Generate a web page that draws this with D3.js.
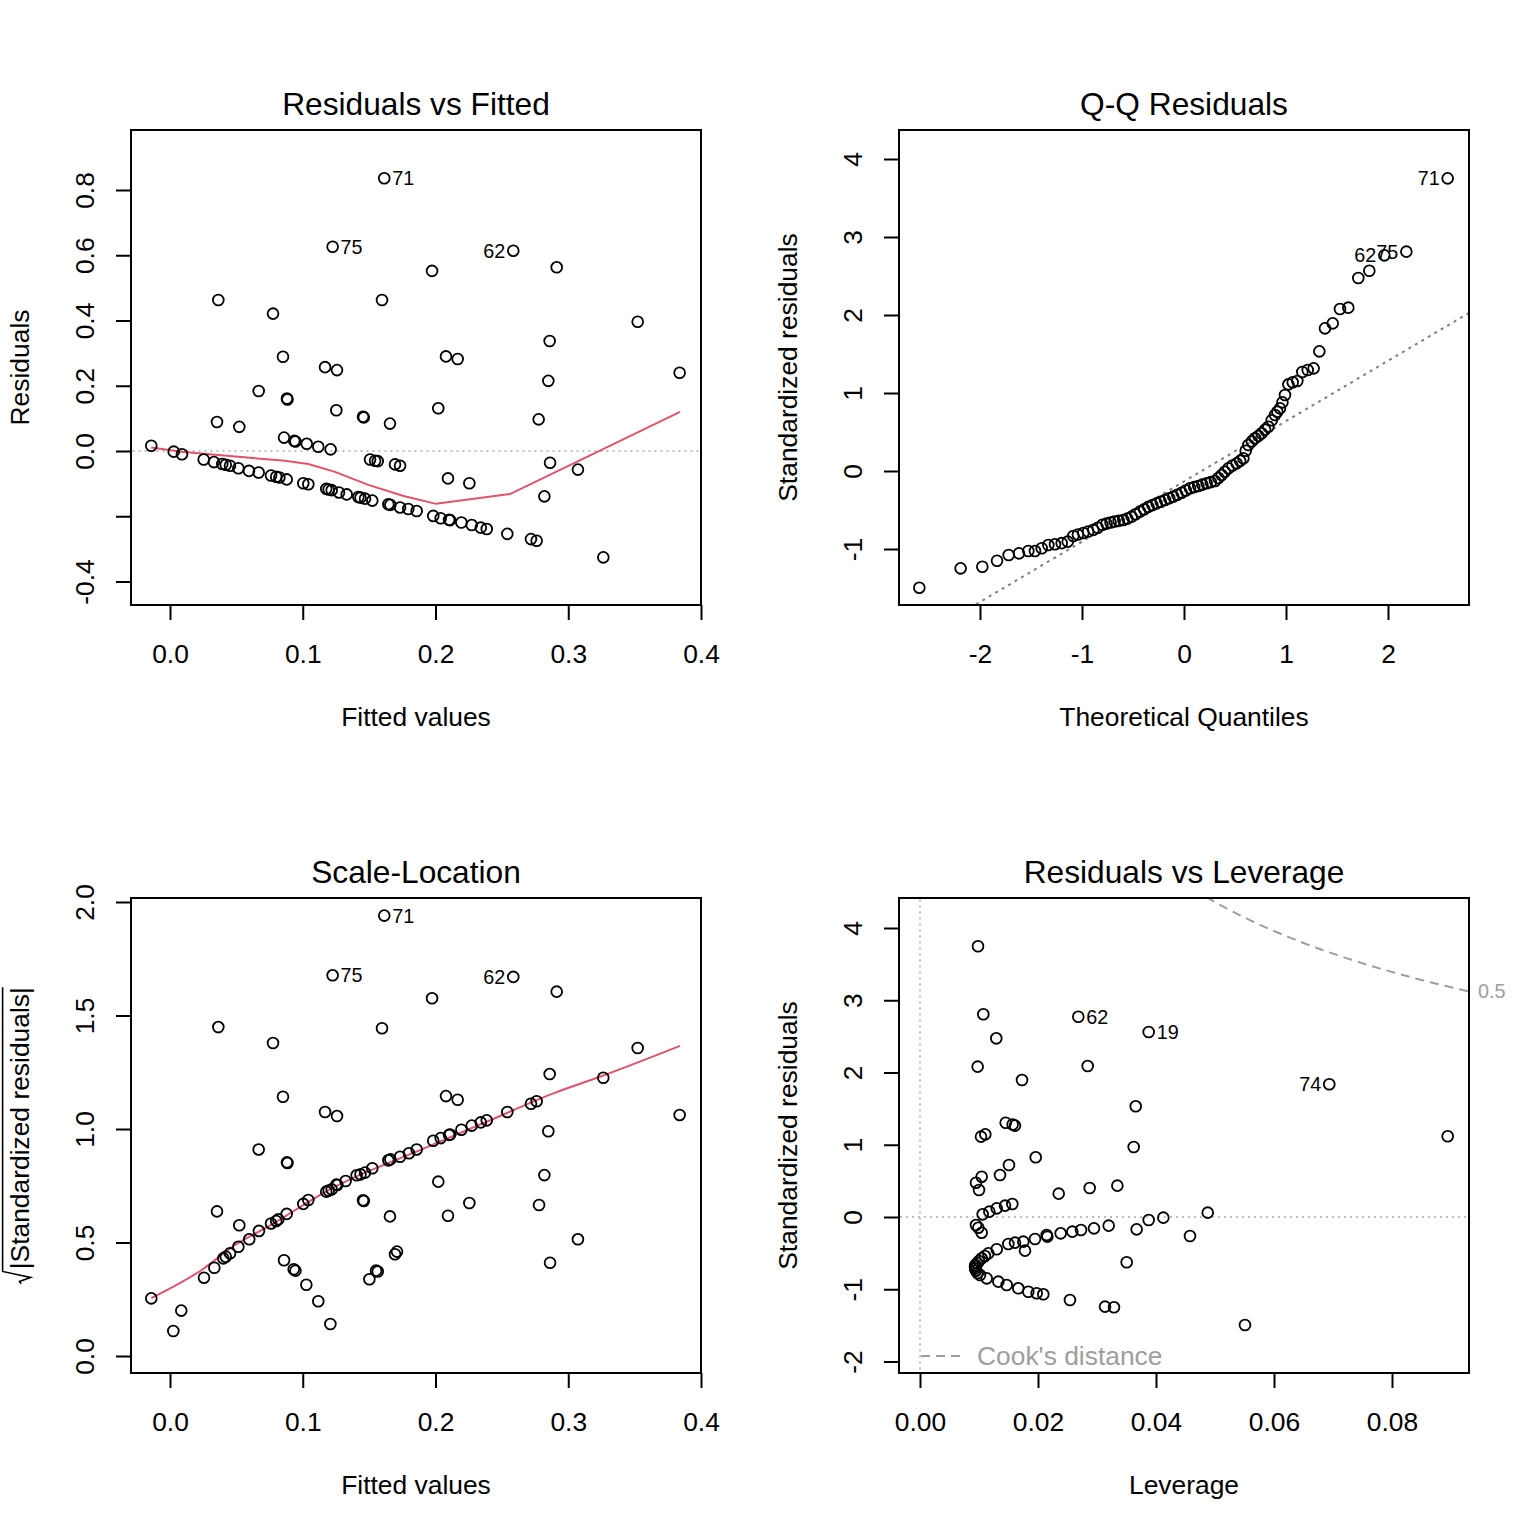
<!DOCTYPE html>
<html>
<head>
<script src="https://cdn.jsdelivr.net/npm/d3@7"></script>
<style>
  body{margin:0;background:white;}
</style>
</head>
<body>
<div id="chart"></div>
<script>

// ---- Residuals vs Fitted : [fitted, residual]
var residFitted = [
  [0.1614,0.836],[0.1225,0.626],[0.2586,0.614],[0.0364,0.463],[0.1597,0.463],[0.0776,0.421],
  [0.1974,0.552],[0.2913,0.563],[0.3523,0.396],[0.0851,0.289],[0.1168,0.257],[0.1258,0.248],
  [0.2860,0.337],[0.2079,0.290],[0.2167,0.282],[0.3839,0.240],[0.2850,0.215],[0.0668,0.184],
  [0.0881,0.161],[0.0885,0.158],[0.1253,0.125],[0.1454,0.105],[0.1460,0.103],[0.0354,0.089],
  [0.0522,0.074],[0.1657,0.084],[0.2021,0.131],[0.2777,0.097],[0.0859,0.041],[0.0936,0.031],
  [0.0945,0.029],[0.1030,0.022],[0.1117,0.013],[0.1210,0.005],[-0.0141,0.016],
  [0.1507,-0.026],[0.1545,-0.030],[0.1565,-0.031],[0.1695,-0.041],[0.1733,-0.045],
  [0.2863,-0.036],[0.3073,-0.057],[0.2094,-0.084],[0.2255,-0.099],[0.2820,-0.139],
  [0.0028,-0.002],[0.0090,-0.010],[0.0254,-0.026],[0.0331,-0.034],[0.0394,-0.040],[0.0420,-0.042],
  [0.0452,-0.045],[0.0515,-0.053],[0.0595,-0.061],[0.0668,-0.066],[0.0761,-0.075],[0.0800,-0.079],
  [0.0824,-0.081],[0.0879,-0.087],[0.1004,-0.099],[0.1042,-0.102],[0.1177,-0.116],[0.1195,-0.118],
  [0.1218,-0.120],[0.1273,-0.127],[0.1331,-0.133],[0.1419,-0.141],[0.1435,-0.143],[0.1469,-0.146],
  [0.1524,-0.152],[0.1645,-0.163],[0.1660,-0.165],[0.1733,-0.173],[0.1795,-0.178],[0.1858,-0.184],
  [0.1983,-0.199],[0.2039,-0.206],[0.2102,-0.211],[0.2110,-0.212],[0.2195,-0.219],[0.2273,-0.227],
  [0.2341,-0.235],[0.2386,-0.239],[0.2541,-0.254],[0.2719,-0.270],[0.2762,-0.275],[0.3264,-0.326]
]
var residSmooth = [
  [-0.0141,0.011],[0.0088,-0.002],[0.049,-0.017],[0.0866,-0.030],[0.1042,-0.040],[0.1243,-0.064],
  [0.1494,-0.104],[0.1760,-0.138],[0.2004,-0.162],[0.2561,-0.132],[0.3239,0.001],[0.3842,0.120]
]
var residIds = [[0.1614,0.836,"71"],[0.1225,0.626,"75"],[0.2586,0.614,"62"]]

// ---- Q-Q Residuals : [theoretical quantile, standardized residual]
var qqPoints = [
  [-2.595,-1.496],[-2.190,-1.248],[-1.977,-1.227],[-1.833,-1.150],[-1.719,-1.077],[-1.618,-1.056],
  [-1.526,-1.026],[-1.461,-1.026],[-1.395,-0.991],[-1.330,-0.949],[-1.265,-0.940],[-1.199,-0.925],
  [-1.140,-0.906],[-1.085,-0.833],[-1.040,-0.815],[-0.987,-0.795],[-0.940,-0.775],[-0.889,-0.755],
  [-0.845,-0.728],[-0.800,-0.690],[-0.760,-0.675],[-0.720,-0.660],[-0.680,-0.648],[-0.640,-0.640],
  [-0.595,-0.628],[-0.555,-0.610],[-0.513,-0.585],[-0.475,-0.555],[-0.431,-0.521],[-0.390,-0.490],
  [-0.350,-0.460],[-0.310,-0.437],[-0.268,-0.415],[-0.228,-0.395],[-0.186,-0.372],[-0.145,-0.350],
  [-0.105,-0.329],[-0.065,-0.305],[-0.023,-0.278],[0.018,-0.250],[0.059,-0.222],[0.100,-0.207],
  [0.140,-0.192],[0.180,-0.175],[0.222,-0.158],[0.263,-0.143],[0.304,-0.128],[0.337,-0.090],
  [0.369,-0.051],[0.400,-0.010],[0.435,0.034],[0.475,0.070],[0.516,0.098],[0.550,0.130],
  [0.582,0.162],[0.605,0.260],[0.631,0.333],[0.665,0.380],[0.696,0.419],[0.730,0.450],
  [0.761,0.483],[0.795,0.530],[0.827,0.568],[0.860,0.650],[0.892,0.718],[0.915,0.760],
  [0.941,0.803],[0.965,0.880],[0.990,0.974],[1.023,1.111],[1.066,1.137],[1.111,1.154],
  [1.160,1.269],[1.213,1.295],[1.271,1.316],[1.327,1.534],[1.382,1.829],[1.458,1.893],
  [1.529,2.077],[1.611,2.094],[1.709,2.474],[1.817,2.568],[1.964,2.765],[2.180,2.812],[2.585,3.752]
]
var qqLine = [[-2.8,-2.297],[2.8,2.031]]
var qqIds = [[2.585,3.752,"71"],[1.964,2.765,"62"],[2.180,2.812,"75"]]

// ---- Scale-Location : [fitted, sqrt(|std residual|)]
var scaleLoc = [
  [0.1614,1.940],[0.1225,1.677],[0.2586,1.670],[0.0364,1.449],[0.1597,1.444],[0.0776,1.379],
  [0.1974,1.576],[0.2913,1.605],[0.3523,1.357],[0.0851,1.142],[0.1168,1.075],[0.1258,1.057],
  [0.2860,1.242],[0.2079,1.145],[0.2167,1.129],[0.3839,1.062],[0.2850,0.990],[0.0668,0.910],
  [0.0881,0.853],[0.0885,0.850],[0.1454,0.686],[0.1460,0.683],[0.1657,0.615],[0.0354,0.637],
  [0.0522,0.576],[0.2021,0.768],[0.2820,0.797],[0.2780,0.665],[0.1253,0.755],
  [0.0859,0.422],[0.0932,0.382],[0.0945,0.376],[0.1027,0.314],[0.1117,0.241],[0.1208,0.141],
  [-0.0141,0.254],[0.0085,0.200],[0.0025,0.110],[0.1710,0.460],[0.1695,0.448],[0.1552,0.376],
  [0.1565,0.372],[0.1502,0.338],[0.2863,0.411],[0.3073,0.514],[0.2094,0.618],[0.2255,0.674],
  [0.0256,0.345],[0.0334,0.389],[0.0402,0.430],[0.0420,0.437],[0.0452,0.452],[0.0515,0.481],
  [0.0597,0.514],[0.0670,0.551],[0.0761,0.584],[0.0800,0.595],[0.0816,0.602],[0.0879,0.626],
  [0.1004,0.670],[0.1042,0.687],[0.1177,0.724],[0.1195,0.729],[0.1218,0.734],[0.1260,0.753],
  [0.1323,0.771],[0.1406,0.796],[0.1435,0.800],[0.1469,0.808],[0.1524,0.827],[0.1645,0.862],
  [0.1660,0.866],[0.1733,0.878],[0.1800,0.893],[0.1858,0.910],[0.1983,0.948],[0.2039,0.960],
  [0.2102,0.974],[0.2110,0.976],[0.2195,0.997],[0.2273,1.015],[0.2341,1.029],[0.2386,1.038],
  [0.2541,1.075],[0.2719,1.111],[0.2762,1.122],[0.3264,1.226]
]
var scaleSmooth = [
  [-0.0141,0.255],[0.0239,0.379],[0.049,0.489],[0.0741,0.571],[0.1243,0.746],[0.1883,0.907],
  [0.2386,1.032],[0.2888,1.157],[0.3239,1.230],[0.3842,1.366]
]
var scaleIds = [[0.1614,1.940,"71"],[0.1225,1.677,"75"],[0.2586,1.670,"62"]]

// ---- Residuals vs Leverage : [leverage, std residual]
var levPoints = [
  [0.00983,3.747],[0.01073,2.806],[0.01293,2.473],[0.00977,2.081],[0.01729,1.896],[0.01452,1.305],
  [0.01570,1.280],[0.01610,1.265],[0.01107,1.144],[0.01034,1.112],[0.01961,0.826],[0.01508,0.720],
  [0.01356,0.581],[0.01045,0.558],[0.00949,0.475],[0.01000,0.374],[0.01565,0.180],[0.01441,0.157],
  [0.01300,0.120],[0.01175,0.074],[0.01062,0.037],[0.00949,-0.111],[0.00989,-0.148],[0.01045,-0.217],
  [0.02147,-0.249],[0.01949,-0.304],[0.01780,-0.466],[0.01751,-0.341],[0.01610,-0.355],[0.01497,-0.374],
  [0.01300,-0.447],[0.01158,-0.503],[0.01100,-0.540],[0.01045,-0.572],[0.01000,-0.610],[0.00971,-0.641],
  [0.00940,-0.665],[0.00932,-0.688],[0.00935,-0.715],[0.00949,-0.743],[0.00975,-0.775],[0.01017,-0.803],
  [0.01131,-0.849],[0.01328,-0.895],[0.01469,-0.941],[0.01666,-0.987],[0.01836,-1.034],[0.01977,-1.056],
  [0.02090,-1.070],[0.02683,2.772],[0.03876,2.561],[0.02842,2.090],[0.06937,1.837],[0.03656,1.532],
  [0.03622,0.969],[0.08944,1.117],[0.02351,0.323],[0.02876,0.401],[0.03345,0.434],[0.04877,0.060],
  [0.04124,-0.009],[0.03876,-0.042],[0.03672,-0.171],[0.04576,-0.263],[0.03198,-0.120],[0.02949,-0.157],
  [0.02729,-0.180],[0.02582,-0.203],[0.02384,-0.226],[0.02158,-0.272],[0.03503,-0.627],[0.02542,-1.149],
  [0.03136,-1.241],[0.03288,-1.250],[0.05508,-1.495]
]
var levIds = [[0.02683,2.772,"62"],[0.03876,2.561,"19"],[0.06937,1.837,"74"]]
var cookLevel = 0.5
var nCoef = 2

// ---- ticks
var fitTicks = [0,0.1,0.2,0.3,0.4]
var residTicks = [-0.4,-0.2,0,0.2,0.4,0.6,0.8]
var qqXTicks = [-2,-1,0,1,2]
var qqYTicks = [-1,0,1,2,3,4]
var slTicks = [0,0.5,1,1.5,2]
var levXTicks = [0,0.02,0.04,0.06,0.08]
var levYTicks = [-2,-1,0,1,2,3,4]

var W = 1536, H = 1536
var font = "'Liberation Sans', Arial, Helvetica, sans-serif"
var fs = 26.4
var box = {l:131, r:701, t:130, b:605}
var red = "#DF536B"

var svg = d3.select("#chart").append("svg")
  .attr("width",W).attr("height",H)
  .style("font-family",font)
  .style("background","white")

function makePanel(ox, oy, cfg){
  var g = svg.append("g").attr("transform","translate("+ox+","+oy+")")
  var x = d3.scaleLinear().domain(cfg.xd).range(cfg.xr)
  var y = d3.scaleLinear().domain(cfg.yd).range(cfg.yr)

  var id = "clip"+ox+"_"+oy
  g.append("clipPath").attr("id",id).append("rect")
    .attr("x",box.l).attr("y",box.t).attr("width",box.r-box.l).attr("height",box.b-box.t)
  var inner = g.append("g").attr("clip-path","url(#"+id+")")

  var xa = g.append("g").attr("transform","translate(0,"+box.b+")")
    .call(d3.axisBottom(x).tickValues(cfg.xt).tickSize(15).tickSizeOuter(0).tickFormat(cfg.xf))
  xa.attr("font-size",null).attr("font-family",null)
  xa.select(".domain").remove()
  xa.selectAll("line").attr("stroke-width",2)
  xa.selectAll("text").attr("y",58).attr("dy",null).attr("font-size",fs)

  var ya = g.append("g").attr("transform","translate("+box.l+",0)")
    .call(d3.axisLeft(y).tickValues(cfg.yt).tickSize(15).tickSizeOuter(0).tickFormat(cfg.yf))
  ya.attr("font-size",null).attr("font-family",null)
  ya.select(".domain").remove()
  ya.selectAll("line").attr("stroke-width",2)
  ya.selectAll("text").attr("x",0).attr("dy",null).attr("font-size",fs)
    .attr("text-anchor","middle").attr("transform","translate(-37,0) rotate(-90)")

  g.append("rect").attr("x",box.l).attr("y",box.t)
    .attr("width",box.r-box.l).attr("height",box.b-box.t)
    .attr("fill","none").attr("stroke","black").attr("stroke-width",2)

  g.append("text").text(cfg.title).attr("x",(box.l+box.r)/2).attr("y",115)
    .attr("text-anchor","middle").attr("font-size",31.7)
  g.append("text").text(cfg.xlab).attr("x",(box.l+box.r)/2).attr("y",726)
    .attr("text-anchor","middle").attr("font-size",fs)
  if(cfg.ylab){
    g.append("text").text(cfg.ylab)
      .attr("transform","translate(29,"+((box.t+box.b)/2)+") rotate(-90)")
      .attr("text-anchor","middle").attr("font-size",fs)
  }
  return {g:g, inner:inner, x:x, y:y}
}

function drawPoints(p, data){
  p.g.append("g").selectAll("circle").data(data).enter().append("circle")
    .attr("cx",function(d){return p.x(d[0])})
    .attr("cy",function(d){return p.y(d[1])})
    .attr("r",5.4)
    .attr("fill","none").attr("stroke","black").attr("stroke-width",1.8)
}

function drawIds(p, ids, mid){
  p.g.append("g").selectAll("text").data(ids).enter().append("text")
    .text(function(d){return d[2]})
    .attr("x",function(d){return d[0]>mid ? p.x(d[0])-8 : p.x(d[0])+8})
    .attr("y",function(d){return p.y(d[1])+7})
    .attr("text-anchor",function(d){return d[0]>mid ? "end" : "start"})
    .attr("font-size",19.8)
}

function drawLine(p, data, color, dash, width, curve){
  p.inner.append("path").datum(data)
    .attr("d",d3.line().curve(curve || d3.curveLinear)
      .x(function(d){return p.x(d[0])}).y(function(d){return p.y(d[1])}))
    .attr("fill","none").attr("stroke",color).attr("stroke-width",width)
    .attr("stroke-dasharray",dash)
}

function midRange(data){
  var e = d3.extent(data,function(d){return d[0]})
  return (e[0]+e[1])/2
}

var f1 = function(d){return d.toFixed(1)}
var f0 = function(d){return d.toFixed(0)}
var f2 = function(d){return d.toFixed(2)}

// ---------- panel 1
var p1 = makePanel(0,0,{
  xd:[0,0.4], xr:[170,701], yd:[0,0.8], yr:[451,190],
  xt:fitTicks, yt:residTicks, xf:f1,
  yf:function(d){return Math.abs(d+0.2)<1e-9 ? "" : d.toFixed(1)},
  title:"Residuals vs Fitted", xlab:"Fitted values", ylab:"Residuals"
})
drawLine(p1, [[-1,0],[1,0]], "#BEBEBE", "2,4", 2)
drawPoints(p1, residFitted)
drawLine(p1, residSmooth, red, null, 2)
drawIds(p1, residIds, midRange(residFitted))

// ---------- panel 2
var p2 = makePanel(768,0,{
  xd:[-2,2], xr:[212,620], yd:[0,4], yr:[471,159],
  xt:qqXTicks, yt:qqYTicks, xf:f0, yf:f0,
  title:"Q-Q Residuals", xlab:"Theoretical Quantiles", ylab:"Standardized residuals"
})
drawPoints(p2, qqPoints)
drawLine(p2, qqLine, "#7F7F7F", "3,4.5", 2)
drawIds(p2, qqIds, midRange(qqPoints))

// ---------- panel 3
var p3 = makePanel(0,768,{
  xd:[0,0.4], xr:[170,701], yd:[0,2], yr:[588,134],
  xt:fitTicks, yt:slTicks, xf:f1, yf:f1,
  title:"Scale-Location", xlab:"Fitted values", ylab:null
})
drawPoints(p3, scaleLoc)
drawLine(p3, scaleSmooth, red, null, 2, d3.curveMonotoneX)
drawIds(p3, scaleIds, midRange(scaleLoc))

// sqrt(|Standardized residuals|) label with radical
var ylab3 = p3.g.append("g").attr("transform","translate(29,"+((box.t+box.b)/2)+") rotate(-90)")
var ylabText = ylab3.append("text").text("|Standardized residuals|").attr("font-size",fs)
var tl = ylabText.node().getComputedTextLength()
var rw = 0.55*fs
var x0 = -(tl+rw)/2
ylabText.attr("x",x0+rw)
ylab3.append("path")
  .attr("d","M"+x0+","+(-0.30*fs)+" L"+(x0+0.09*fs)+","+(-0.36*fs)+" L"+(x0+0.24*fs)+","+(0.06*fs)+
    " L"+(x0+0.47*fs)+","+(-1.0*fs)+" L"+(x0+rw+tl)+","+(-1.0*fs))
  .attr("fill","none").attr("stroke","black").attr("stroke-width",1.6)

// ---------- panel 4
var p4 = makePanel(768,768,{
  xd:[0,0.08], xr:[152,624], yd:[0,4], yr:[449,160],
  xt:levXTicks, yt:levYTicks, xf:f2, yf:f0,
  title:"Residuals vs Leverage", xlab:"Leverage", ylab:"Standardized residuals"
})
drawLine(p4, [[-1,0],[1,0]], "#BEBEBE", "2,4", 2)
drawLine(p4, [[0,-10],[0,10]], "#BEBEBE", "2,4", 2)
drawPoints(p4, levPoints)
drawIds(p4, levIds, midRange(levPoints))

// Cook's distance contour
var hMax = p4.x.invert(box.r)
var cookCurve = d3.range(0.02, hMax+0.0005, 0.0005).map(function(h){
  return [h, Math.sqrt(cookLevel*nCoef*(1-h)/h)]
})
drawLine(p4, cookCurve, "#9E9E9E", "9,6", 2)
p4.g.append("text").text(cookLevel)
  .attr("x",box.r+9).attr("y",p4.y(Math.sqrt(cookLevel*nCoef*(1-hMax)/hMax))+7)
  .attr("font-size",19.8).attr("fill","#9E9E9E")

// legend
p4.g.append("line").attr("x1",153).attr("x2",196).attr("y1",588).attr("y2",588)
  .attr("stroke","#9E9E9E").attr("stroke-width",2).attr("stroke-dasharray","9,6")
p4.g.append("text").text("Cook's distance").attr("x",209).attr("y",597)
  .attr("font-size",fs).attr("fill","#9E9E9E")

</script>
</body>
</html>
